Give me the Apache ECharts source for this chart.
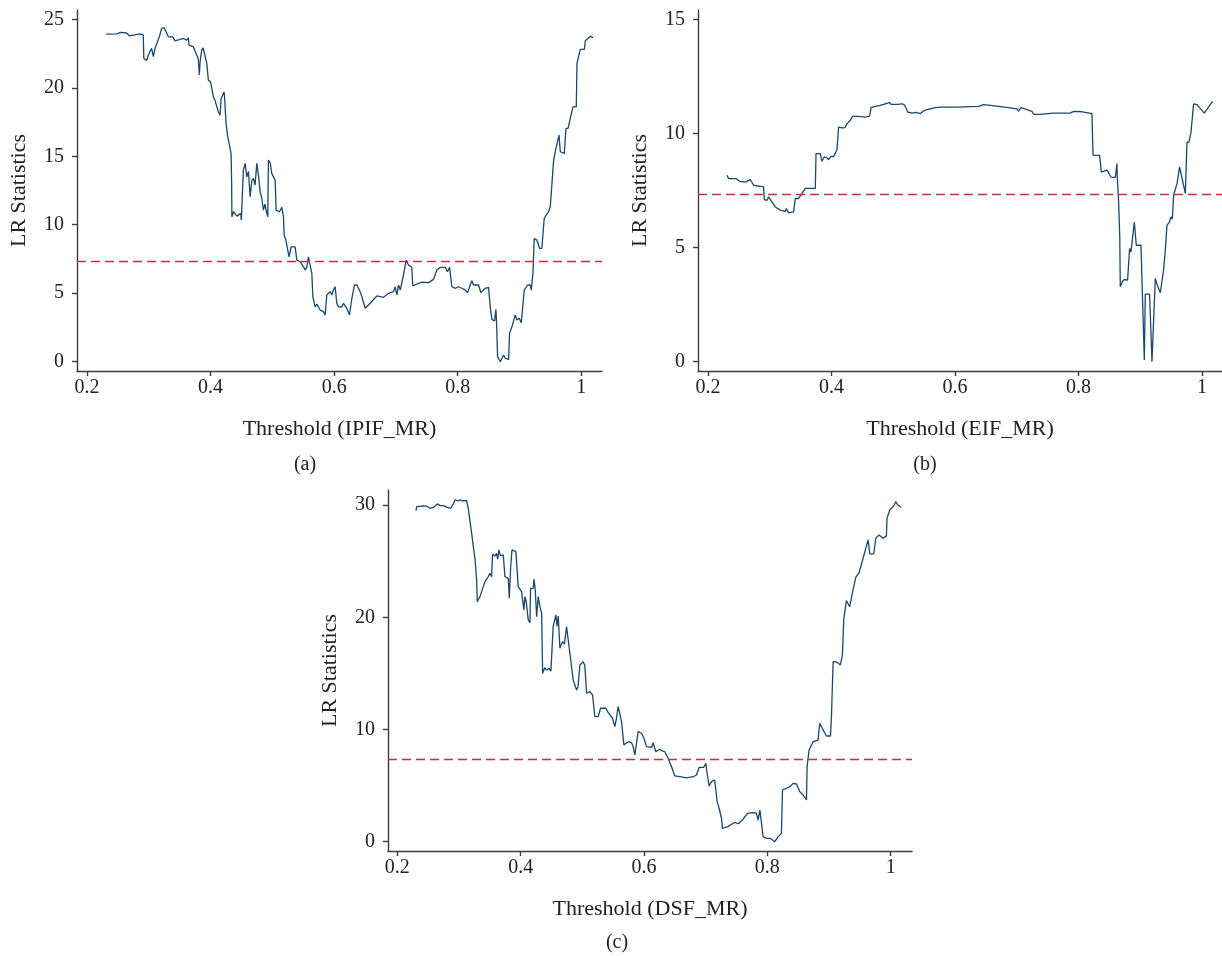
<!DOCTYPE html>
<html>
<head>
<meta charset="utf-8">
<script src="https://cdn.jsdelivr.net/npm/echarts@6/dist/echarts.min.js"></script>
<style>
  html, body { margin: 0; padding: 0; background: #fff; }
  #chart { width: 1222px; height: 956px; }
</style>
</head>
<body>
<div id="chart"></div>
<script>
  // threshold (x) vs LR statistic (y)
  const ipif = [[.231,23.92],[.248,23.94],[.2545,24.04],[.264,24.0],[.2685,23.8],[.275,23.85],[.286,23.94],[.291,23.87],[.292,22.14],[.2965,22.0],[.2993,22.39],[.3046,22.88],[.3074,22.27],[.3101,22.88],[.317,23.72],[.3208,24.33],[.3247,24.38],[.328,24.09],[.3317,23.72],[.3386,23.72],[.3425,23.43],[.3506,23.53],[.356,23.6],[.3613,23.48],[.364,23.65],[.365,23.12],[.372,22.99],[.3775,22.39],[.380,22.14],[.3818,20.93],[.383,21.9],[.3857,22.75],[.388,22.92],[.3911,22.82],[.3938,21.78],[.3964,20.56],[.400,20.44],[.4045,19.34],[.407,19.1],[.4126,18.25],[.4154,18.0],[.417,19.2],[.4197,19.34],[.4218,19.7],[.4226,19.35],[.425,17.4],[.4278,16.42],[.4316,15.57],[.4332,15.2],[.434,13.26],[.4345,10.58],[.4372,10.95],[.4426,10.63],[.4489,10.83],[.4498,10.34],[.4531,14.0],[.4559,14.48],[.4586,13.5],[.4613,13.9],[.464,12.04],[.4667,13.2],[.4693,13.38],[.472,12.9],[.4748,14.48],[.4775,13.6],[.4802,12.4],[.4829,11.93],[.4855,11.07],[.488,11.5],[.491,10.83],[.4926,10.58],[.4936,14.72],[.4965,14.5],[.499,13.75],[.5045,13.26],[.506,11.07],[.5114,10.95],[.5153,11.27],[.518,10.58],[.519,9.25],[.5218,8.88],[.5244,8.76],[.527,7.66],[.5304,8.39],[.5368,8.39],[.5396,7.42],[.545,7.3],[.5503,6.93],[.553,6.69],[.5558,6.9],[.5584,7.66],[.561,7.66],[.5639,6.45],[.5655,4.74],[.5692,4.01],[.572,4.2],[.5773,3.77],[.5827,3.65],[.5854,3.41],[.5881,4.87],[.5935,5.11],[.5962,4.87],[.5989,5.23],[.6016,5.47],[.6043,4.26],[.607,4.01],[.6097,4.14],[.6124,3.99],[.6151,4.26],[.6205,3.9],[.6248,3.41],[.6287,4.63],[.6329,5.6],[.6368,5.6],[.6421,5.11],[.6449,4.74],[.6502,3.9],[.6529,3.9],[.6555,4.14],[.6692,4.8],[.6799,4.7],[.688,4.99],[.6961,5.11],[.6988,5.47],[.7015,4.87],[.7041,5.6],[.707,5.23],[.7095,5.11],[.7122,6.33],[.7166,7.42],[.7203,7.06],[.7257,6.89],[.7273,5.53],[.7338,5.67],[.7419,5.8],[.7527,5.77],[.7608,6.01],[.7662,6.69],[.7717,6.89],[.7798,6.89],[.7835,6.57],[.7868,6.89],[.7905,5.47],[.796,5.36],[.8013,5.47],[.8067,5.36],[.8121,5.23],[.8158,5.04],[.8202,5.6],[.8229,5.91],[.8256,5.6],[.8337,5.6],[.8374,5.04],[.8445,5.36],[.8499,5.43],[.8526,4.01],[.8553,3.09],[.8596,2.97],[.8618,3.82],[.8628,2.9],[.8645,0.37],[.8689,0.0],[.8742,0.49],[.8769,0.25],[.8823,0.17],[.8839,2.07],[.8878,2.56],[.8931,3.41],[.8958,3.04],[.8996,3.17],[.9028,2.85],[.9055,4.14],[.9077,5.23],[.913,5.6],[.9174,5.6],[.919,5.23],[.9217,6.45],[.9238,9.0],[.9281,8.88],[.9325,8.28],[.9362,8.28],[.94,10.47],[.9433,10.71],[.947,10.95],[.9498,11.31],[.9525,13.0],[.9552,14.72],[.9595,15.69],[.9639,16.55],[.966,15.33],[.9692,15.45],[.9725,15.21],[.9752,17.04],[.9785,17.04],[.9822,17.77],[.9865,18.61],[.9919,18.61],[.993,21.78],[.9984,22.8],[1.0049,22.8],[1.0065,23.43],[1.0146,23.77],[1.019,23.65]]

  const eif = [[.2308,8.17],[.2334,8.02],[.2458,8.02],[.248,8.09],[.2512,7.9],[.2604,7.87],[.2685,7.98],[.2739,7.73],[.2766,7.66],[.29,7.66],[.2912,7.1],[.2955,7.07],[.2981,7.22],[.3005,7.15],[.3036,7.0],[.306,7.05],[.309,6.78],[.3117,6.71],[.3171,6.64],[.3252,6.59],[.3268,6.71],[.3305,6.52],[.3386,6.56],[.3414,7.15],[.3467,7.15],[.3522,7.37],[.3576,7.59],[.3738,7.59],[.3749,9.12],[.3819,9.12],[.3846,8.78],[.3883,8.97],[.392,8.95],[.3953,8.85],[.399,9.0],[.403,8.98],[.4062,9.14],[.4089,9.29],[.4115,10.28],[.417,10.24],[.422,10.26],[.4251,10.43],[.428,10.4],[.4304,10.57],[.4342,10.75],[.4439,10.75],[.4547,10.72],[.4617,10.76],[.464,11.13],[.4709,11.19],[.479,11.23],[.4871,11.3],[.4941,11.36],[.4964,11.27],[.5061,11.27],[.5142,11.3],[.518,11.25],[.5211,11.08],[.5233,10.94],[.5304,10.89],[.537,10.92],[.5438,10.87],[.5503,11.01],[.56,11.08],[.5681,11.13],[.5762,11.15],[.5843,11.15],[.587,11.08],[.6032,11.15],[.6382,11.19],[.6463,11.26],[.6572,11.23],[.6868,11.13],[.7004,11.08],[.703,10.98],[.7069,11.13],[.713,11.08],[.7247,10.97],[.7273,10.84],[.7381,10.84],[.7597,10.89],[.7867,10.89],[.7921,10.97],[.806,10.95],[.8218,10.87],[.8235,9.04],[.8342,9.04],[.8369,8.31],[.8462,8.39],[.849,8.31],[.8526,8.09],[.8596,8.07],[.8623,8.68],[.8628,8.09],[.8649,7.07],[.8668,5.5],[.8677,3.28],[.871,3.5],[.8742,3.6],[.8795,3.57],[.8828,4.96],[.885,4.8],[.8904,6.12],[.8936,5.1],[.9012,5.1],[.9066,0.07],[.9082,2.96],[.9151,2.96],[.919,0.0],[.9244,3.65],[.9281,3.31],[.9325,3.02],[.9378,4.01],[.9406,4.89],[.9433,5.98],[.947,6.1],[.9498,6.34],[.952,6.25],[.954,7.29],[.9595,7.8],[.9637,8.53],[.973,7.37],[.9757,9.62],[.979,9.62],[.9822,10.06],[.9864,11.3],[.9919,11.26],[1.0037,10.89],[1.0162,11.37],[1.0178,11.37]]

  const dsf = [[.2303,29.5],[.2314,29.86],[.2421,29.92],[.2475,29.9],[.253,29.71],[.259,29.8],[.2648,30.1],[.2695,29.95],[.2745,29.95],[.281,29.8],[.2866,29.71],[.2908,30.1],[.2935,30.45],[.298,30.38],[.3016,30.45],[.306,30.38],[.3124,30.39],[.315,29.71],[.3178,29.56],[.3205,27.49],[.3232,26.3],[.3259,25.26],[.3286,23.32],[.3296,21.39],[.334,21.84],[.3367,21.8],[.3394,22.73],[.3421,23.17],[.3475,23.62],[.3502,23.92],[.3529,23.62],[.3545,25.64],[.358,25.45],[.361,25.7],[.3627,25.17],[.3648,26.0],[.367,25.5],[.3718,25.55],[.3745,23.62],[.3799,23.47],[.3815,21.69],[.3838,24.45],[.3859,26.0],[.3891,26.15],[.3923,25.85],[.396,22.73],[.4015,22.28],[.4052,20.65],[.4069,21.84],[.409,21.4],[.4123,19.76],[.415,19.52],[.4161,22.58],[.4204,22.58],[.4215,23.39],[.4235,22.6],[.4259,20.05],[.4285,21.84],[.4312,20.94],[.434,20.36],[.4356,15.01],[.439,15.5],[.4421,15.3],[.4462,15.45],[.449,15.2],[.4527,19.16],[.4571,20.2],[.459,19.2],[.4609,20.11],[.4636,17.24],[.4679,17.83],[.471,17.6],[.4744,19.16],[.4798,16.79],[.4851,14.41],[.4906,13.52],[.493,13.8],[.496,15.75],[.5014,16.04],[.504,15.7],[.5069,13.23],[.5122,13.37],[.5166,13.07],[.5203,11.14],[.5257,11.14],[.5295,11.89],[.5381,11.89],[.542,11.5],[.549,11.0],[.5527,10.25],[.555,10.9],[.5581,12.03],[.5608,12.03],[.5636,10.7],[.5673,8.62],[.5743,8.91],[.5767,9.06],[.58,8.8],[.5823,8.47],[.5851,7.73],[.5905,9.8],[.596,9.66],[.6,9.2],[.6041,8.47],[.6122,8.41],[.6148,8.82],[.6192,8.02],[.6256,8.24],[.629,8.1],[.6337,8.02],[.6391,7.43],[.6446,6.68],[.65,5.86],[.6581,5.79],[.6689,5.68],[.6797,5.79],[.6851,5.94],[.6894,6.63],[.6969,6.63],[.7002,6.99],[.7023,6.1],[.7056,4.96],[.7093,5.35],[.7147,5.5],[.7185,3.57],[.7218,2.98],[.7256,2.09],[.7272,1.19],[.7362,1.34],[.7471,1.73],[.753,1.6],[.7606,2.0],[.7677,2.53],[.7769,2.59],[.782,2.55],[.785,1.93],[.7878,2.83],[.7905,1.64],[.7931,0.45],[.7986,0.3],[.805,0.3],[.812,0.0],[.8174,0.45],[.8228,0.75],[.8245,4.61],[.831,4.76],[.8364,4.9],[.8418,5.2],[.8472,5.14],[.85,5.3],[.8526,4.46],[.8579,4.16],[.8634,3.72],[.8644,6.68],[.8676,8.17],[.8741,8.91],[.8822,9.06],[.8849,10.55],[.8903,9.96],[.8958,9.42],[.9023,9.42],[.9039,11.14],[.9066,16.04],[.9093,16.19],[.913,16.0],[.9184,15.75],[.9217,16.64],[.9238,19.76],[.9281,21.48],[.9335,20.94],[.9363,20.8],[.9389,22.43],[.9433,23.56],[.9487,23.97],[.9552,25.26],[.9633,26.89],[.9661,25.64],[.9725,25.64],[.9758,27.04],[.9811,27.34],[.9876,27.04],[.993,27.25],[.994,28.82],[.9984,29.56],[1.0049,29.92],[1.008,30.3],[1.0116,30.0],[1.0171,29.8]]

  const critValues = [7.35, 7.32, 7.37]
  const xNames = ['Threshold (IPIF_MR)', 'Threshold (EIF_MR)', 'Threshold (DSF_MR)']
  const panelLabels = ['(a)', '(b)', '(c)']
  const xTicks = [0.2, 0.4, 0.6, 0.8, 1]
  const yTicks = [[0, 5, 10, 15, 20, 25], [0, 5, 10, 15], [0, 10, 20, 30]]

  const font = 'Liberation Serif'
  const axisColor = '#3c3c3c'
  const lineColor = '#1a476f'
  const refColor = '#cc2a3e'

  // plot areas, in pixels
  const grids = [
    { left: 77, top: 10, width: 525, height: 361 },
    { left: 698, top: 10, width: 524, height: 361 },
    { left: 388, top: 490, width: 524, height: 361 }
  ]
  const xRanges = [[0.1838, 1.0335], [0.1838, 1.0324], [0.1849, 1.0345]]
  const yRanges = [[-0.68, 25.68], [-0.41, 15.41], [-0.83, 31.34]]
  const labelPos = [[305, 465], [925, 465], [617, 943]]

  const series = [ipif, eif, dsf]

  const chart = echarts.init(document.getElementById('chart'))
  chart.setOption({
    animation: false,
    grid: grids.map(g => Object.assign({ outerBoundsMode: 'none', containLabel: false }, g)),
    xAxis: grids.map((g, i) => ({
      type: 'value',
      gridIndex: i,
      min: xRanges[i][0],
      max: xRanges[i][1],
      name: xNames[i],
      nameLocation: 'middle',
      nameGap: 47,
      nameMoveOverlap: false,
      nameTextStyle: { fontFamily: font, fontSize: 22, color: '#222' },
      axisLine: { onZero: false, lineStyle: { color: axisColor, width: 1.4 } },
      axisTick: { inside: false, length: 5, customValues: xTicks, lineStyle: { color: axisColor, width: 1.4 } },
      axisLabel: { customValues: xTicks, margin: 7, fontFamily: font, fontSize: 20, color: '#222',
        formatter: v => String(v), hideOverlap: false, showMinLabel: true, showMaxLabel: true },
      splitLine: { show: false }
    })),
    yAxis: grids.map((g, i) => ({
      type: 'value',
      gridIndex: i,
      min: yRanges[i][0],
      max: yRanges[i][1],
      name: 'LR Statistics',
      nameLocation: 'middle',
      nameRotate: 90,
      nameGap: 47,
      nameMoveOverlap: false,
      nameTextStyle: { fontFamily: font, fontSize: 22, color: '#222' },
      axisLine: { onZero: false, lineStyle: { color: axisColor, width: 1.4 } },
      axisTick: { inside: false, length: 5, customValues: yTicks[i], lineStyle: { color: axisColor, width: 1.4 } },
      axisLabel: { customValues: yTicks[i], margin: 13, fontFamily: font, fontSize: 20, color: '#222',
        hideOverlap: false },
      splitLine: { show: false }
    })),
    graphic: panelLabels.map((t, i) => ({
      type: 'text',
      x: labelPos[i][0],
      y: labelPos[i][1],
      style: { text: t, fontFamily: font, fontSize: 20, fill: '#222', align: 'center', verticalAlign: 'middle' }
    })),
    series: series.map((d, i) => ({
      type: 'line',
      xAxisIndex: i,
      yAxisIndex: i,
      data: d,
      showSymbol: false,
      lineStyle: { color: lineColor, width: 1.3 },
      markLine: {
        silent: true,
        symbol: 'none',
        label: { show: false },
        lineStyle: { color: refColor, type: [9, 5], width: 1.3 },
        data: [{ yAxis: critValues[i] }]
      }
    }))
  })
</script>
</body>
</html>
